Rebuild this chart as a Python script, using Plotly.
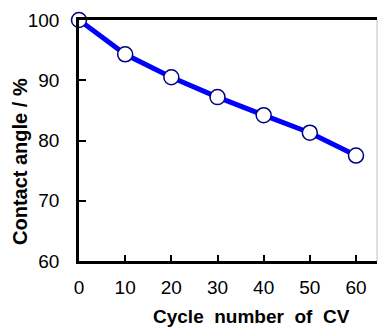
import plotly.graph_objects as go

cycles = [0, 10, 20, 30, 40, 50, 60]
contact_angle = [100.0, 94.3, 90.5, 87.2, 84.2, 81.3, 77.5]
x_ticks = [0, 10, 20, 30, 40, 50, 60]
y_ticks = [60, 70, 80, 90, 100]

fig = go.Figure()
fig.add_trace(go.Scatter(
    x=cycles, y=contact_angle, mode="lines+markers",
    line=dict(color="#0000FF", width=5),
    marker=dict(size=15, color="white", line=dict(color="#000080", width=1.5)),
    cliponaxis=False, showlegend=False,
))

font = dict(family="Arial, Liberation Sans, sans-serif", size=19, color="black")
title_font = dict(family="Arial, Liberation Sans, sans-serif", size=19, color="black")
fig.update_layout(
    width=378, height=329,
    margin=dict(l=79, r=1, t=20, b=68),
    paper_bgcolor="white", plot_bgcolor="white",
    font=font,
    xaxis=dict(range=[0, 64.55], tickvals=x_ticks, ticks="inside", ticklen=6, tickwidth=2,
               tickcolor="black", showline=True, linecolor="black", linewidth=2.5,
               mirror=True, showgrid=False, zeroline=False, ticklabelstandoff=7),
    yaxis=dict(range=[60, 100], tickvals=y_ticks, ticks="inside", ticklen=7, tickwidth=2,
               tickcolor="black", showline=True, linecolor="black", linewidth=2.5,
               showgrid=False, zeroline=False, ticklabelstandoff=13),
    shapes=[dict(type="line", xref="paper", yref="paper", x0=1, x1=1, y0=0, y1=1,
                 line=dict(color="#c0c0c0", width=1))],
    annotations=[
        dict(text="<b>Cycle  number  of  CV</b>", xref="paper", yref="paper",
             x=(251 - 79) / 298, y=-(316 - 261) / 241, showarrow=False,
             font=title_font, xanchor="center", yanchor="middle"),
        dict(text="<b>Contact angle / %</b>", xref="paper", yref="paper",
             x=-(79 - 20) / 298, y=(261 - 162) / 241, showarrow=False, textangle=-90,
             font=dict(family="Arial, Liberation Sans, sans-serif", size=20, color="black"),
             xanchor="center", yanchor="middle"),
    ],
)
fig.write_html("out.html")
